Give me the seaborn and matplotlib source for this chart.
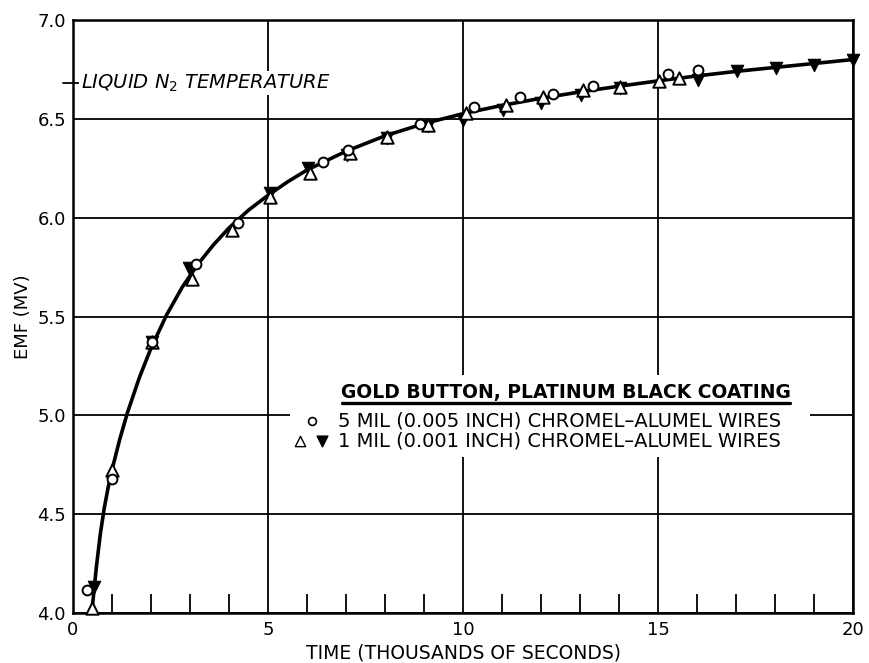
import numpy as np
import pandas as pd
import matplotlib
matplotlib.use("Agg")
import matplotlib.pyplot as plt
import seaborn as sns

# ---------------- data ----------------
# 5 mil wires (open circles)
circle_t = [0.37, 0.99, 2.02, 3.15, 4.24, 6.42, 7.06, 8.90, 10.27, 11.45, 12.32, 13.33, 15.26, 16.03]
circle_emf = [4.116, 4.677, 5.373, 5.766, 5.975, 6.284, 6.343, 6.475, 6.559, 6.610, 6.626, 6.667, 6.726, 6.748]

# 1 mil wires (open triangles)
tri_t = [0.48, 0.99, 2.02, 3.04, 4.07, 5.05, 6.08, 7.10, 8.04, 9.11, 10.08, 11.10, 12.06, 13.07, 14.03, 15.03, 15.55]
tri_emf = [4.025, 4.724, 5.373, 5.690, 5.938, 6.107, 6.228, 6.326, 6.410, 6.470, 6.529, 6.570, 6.610, 6.647, 6.663, 6.690, 6.709]

# 1 mil wires (filled inverted triangles)
inv_t = [0.54, 2.02, 2.98, 5.05, 6.03, 7.02, 8.04, 9.11, 10.00, 11.02, 12.00, 13.02, 14.03, 16.03, 17.02, 18.02, 19.00, 19.99]
inv_emf = [4.130, 5.373, 5.745, 6.124, 6.250, 6.318, 6.405, 6.465, 6.495, 6.545, 6.582, 6.620, 6.655, 6.698, 6.740, 6.757, 6.774, 6.796]

# hand-drawn fitted curve
curve_t = [0.48, 0.60, 0.70, 0.80, 0.90, 1.00, 1.20, 1.40, 1.70, 2.00, 2.40, 2.80, 3.20, 3.60, 4.00,
           4.50, 5.00, 5.50, 6.00, 7.00, 8.00, 9.00, 10.00, 11.00, 12.00, 13.00, 14.00, 15.00,
           16.00, 17.00, 18.00, 19.00, 20.00]
curve_emf = [4.000, 4.234, 4.399, 4.529, 4.634, 4.724, 4.880, 5.016, 5.190, 5.340, 5.508, 5.648,
             5.764, 5.862, 5.948, 6.038, 6.113, 6.181, 6.241, 6.336, 6.414, 6.476, 6.526, 6.568,
             6.604, 6.636, 6.665, 6.692, 6.717, 6.740, 6.760, 6.780, 6.800]

x_ticks = [0, 5, 10, 15, 20]
y_ticks = [4.0, 4.5, 5.0, 5.5, 6.0, 6.5, 7.0]
ln2_level = 6.68

title_text = "GOLD BUTTON, PLATINUM BLACK COATING"
label_5mil = "5 MIL (0.005 INCH) CHROMEL\u2013ALUMEL WIRES"
label_1mil = "1 MIL (0.001 INCH) CHROMEL\u2013ALUMEL WIRES"

# ---------------- figure ----------------
sns.set_style("white")
plt.rcParams['font.family'] = ['DejaVu Sans']
plt.rcParams['text.color'] = 'black'
plt.rcParams['axes.labelcolor'] = 'black'
plt.rcParams['xtick.color'] = 'black'
plt.rcParams['ytick.color'] = 'black'

fig = plt.figure(figsize=(8.69, 6.63), dpi=100)
ax = fig.add_axes([73 / 869, 50 / 663, 780 / 869, 593 / 663])

curve_df = pd.DataFrame({"t": curve_t, "emf": curve_emf})
sns.lineplot(data=curve_df, x="t", y="emf", ax=ax, color="black", linewidth=2.6,
             sort=False, zorder=3, solid_joinstyle="round", solid_capstyle="round")

sns.scatterplot(x=inv_t, y=inv_emf, ax=ax, marker="v", s=80, color="black",
                edgecolor="black", linewidth=0.8, zorder=4, clip_on=False)
sns.scatterplot(x=tri_t, y=tri_emf, ax=ax, marker="^", s=80, facecolor="white",
                edgecolor="black", linewidth=1.4, zorder=5, clip_on=False)
sns.scatterplot(x=circle_t, y=circle_emf, ax=ax, marker="o", s=50, facecolor="white",
                edgecolor="black", linewidth=1.4, zorder=6, clip_on=False)

ax.set_xlim(0, 20)
ax.set_ylim(4.0, 7.0)
ax.set_xticks(x_ticks)
ax.set_xticklabels([str(v) for v in x_ticks])
ax.set_yticks(y_ticks)
ax.set_yticklabels([f"{v:.1f}" for v in y_ticks])
ax.set_xticks(np.arange(0, 21, 1), minor=True)
ax.set_axisbelow(True)
ax.grid(True, which="major", color="black", linewidth=1.3)
ax.tick_params(axis="both", which="major", length=0, labelsize=13, colors="black")
ax.tick_params(axis="x", which="major", pad=6)
ax.tick_params(axis="y", which="major", pad=5)
ax.tick_params(axis="x", which="minor", direction="in", length=14, width=1.3,
               color="black", bottom=True)
for sp in ax.spines.values():
    sp.set_visible(True)
    sp.set_color("black")
    sp.set_linewidth(1.8)

ax.set_xlabel("TIME (THOUSANDS OF SECONDS)", fontsize=13.5, labelpad=3, color="black")
ax.set_ylabel("EMF (MV)", fontsize=13, labelpad=4, color="black")

# liquid nitrogen reference mark
ax.axhline(ln2_level, xmin=-0.013, xmax=0.008, color="black", linewidth=1.3,
           clip_on=False, zorder=5)
ax.text(0.2, ln2_level, "LIQUID N$_2$ TEMPERATURE", fontsize=14, style="italic",
        va="center", ha="left", zorder=6, color="black",
        bbox=dict(facecolor="white", edgecolor="none", pad=1.0))

# legend block (white area interrupts the grid as in the original)
ax.add_patch(plt.Rectangle((5.56, 4.79), 13.34, 0.414, facecolor="white",
                           edgecolor="none", zorder=1))
ax.text(12.64, 5.118, title_text, fontsize=13.5, fontweight="bold",
        ha="center", va="center", zorder=6, color="black")
ax.plot([6.9, 18.38], [5.063, 5.063], color="black", linewidth=2.4, zorder=6)
ax.scatter([6.13], [4.972], marker="o", s=32, facecolor="white",
           edgecolor="black", linewidth=1.2, zorder=6)
ax.text(6.79, 4.972, label_5mil, fontsize=14, ha="left", va="center", zorder=6,
        color="black")
ax.scatter([5.82], [4.870], marker="^", s=55, facecolor="white",
           edgecolor="black", linewidth=1.0, zorder=6)
ax.scatter([6.38], [4.870], marker="v", s=60, color="black", zorder=6)
ax.text(6.79, 4.870, label_1mil, fontsize=14, ha="left", va="center", zorder=6,
        color="black")

fig.savefig("out.png", dpi=100)
